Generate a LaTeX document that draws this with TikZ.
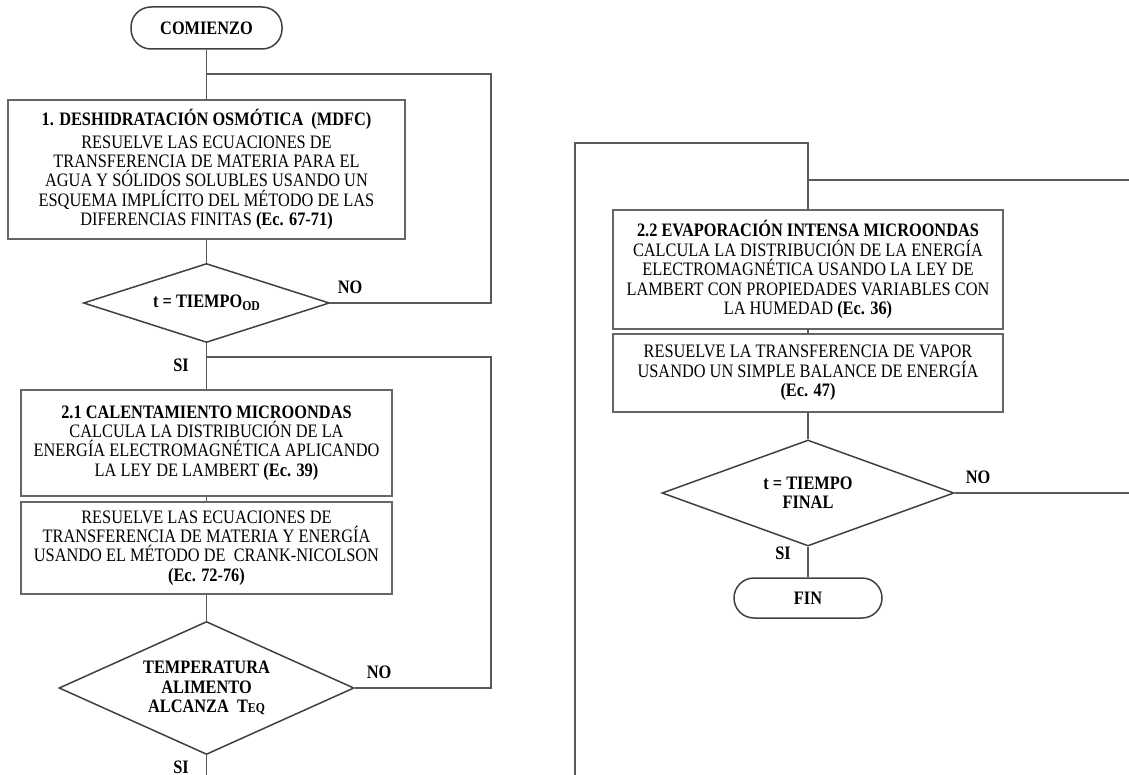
\documentclass[tikz,border=0pt]{standalone}
\usepackage{fontspec}
\setmainfont[FakeStretch=0.86]{Liberation Serif}
\usetikzlibrary{shapes.geometric,positioning,calc}

\tikzset{
  flow/.style={draw=black!65, line width=0.75pt},
  procbox/.style={draw=black!60, line width=0.75pt, rectangle, align=center, inner sep=1pt,
    font=\fontsize{9.5}{9.7}\selectfont},
  termbox/.style={draw=black!75, line width=0.75pt, rectangle, rounded corners=10pt,
    font=\bfseries\fontsize{9.5}{9.7}\selectfont},
  decbox/.style={draw=black!75, line width=0.75pt, diamond, inner sep=0pt, align=center,
    font=\bfseries\fontsize{9.5}{9.7}\selectfont},
  lbl/.style={font=\bfseries\fontsize{9.5}{9.7}\selectfont},
}
\newcommand{\smallsc}[1]{{\fontsize{6.8}{7}\selectfont #1}}

\begin{document}
\begin{tikzpicture}[x=0.5pt,y=-0.5pt]
    \useasboundingbox (0,0) rectangle (1129,775);

    % Left column
    \node[termbox, minimum width=75.5pt, minimum height=21pt] (start) at (206.5,28) {COMIENZO};
    \node[procbox, minimum width=198.5pt, minimum height=69.5pt] (osm) at (206.5,169.5)
        {\textbf{1. DESHIDRATACIÓN OSMÓTICA\ \ (MDFC)}\\[1.5pt]
         RESUELVE LAS ECUACIONES DE\\
         TRANSFERENCIA DE MATERIA PARA EL\\
         AGUA Y SÓLIDOS SOLUBLES USANDO UN\\
         ESQUEMA IMPLÍCITO DEL MÉTODO DE LAS\\
         DIFERENCIAS FINITAS \textbf{(Ec. 67-71)}};
    \node[decbox, aspect=3.1, minimum width=123pt, minimum height=39.5pt] (dec1) at (206.5,303)
        {t = TIEMPO\raisebox{-0.35ex}{\smallsc{OD}}};
    \node[procbox, minimum width=185.5pt, minimum height=53pt] (cal) at (206.5,443)
        {\textbf{2.1 CALENTAMIENTO MICROONDAS}\\
         CALCULA LA DISTRIBUCIÓN DE LA\\
         ENERGÍA ELECTROMAGNÉTICA APLICANDO\\
         LA LEY DE LAMBERT \textbf{(Ec. 39)}};
    \node[procbox, minimum width=185.5pt, minimum height=46pt] (cn) at (206.5,548)
        {RESUELVE LAS ECUACIONES DE\\
         TRANSFERENCIA DE MATERIA Y ENERGÍA\\
         USANDO EL MÉTODO DE\ \ CRANK-NICOLSON\\
         \textbf{(Ec. 72-76)}};
    \node[decbox, aspect=2.2, minimum width=147.5pt, minimum height=66.5pt] (dec2) at (206.5,688)
        {TEMPERATURA\\ALIMENTO\\ALCANZA\ \ T\smallsc{EQ}};

    % Right column
    \node[procbox, minimum width=195pt, minimum height=59.5pt] (evap) at (808,269.5)
        {\textbf{2.2 EVAPORACIÓN INTENSA MICROONDAS}\\
         CALCULA LA DISTRIBUCIÓN DE LA ENERGÍA\\
         ELECTROMAGNÉTICA USANDO LA LEY DE\\
         LAMBERT CON PROPIEDADES VARIABLES CON\\
         LA HUMEDAD \textbf{(Ec. 36)}};
    \node[procbox, minimum width=195pt, minimum height=39pt] (vap) at (808,373)
        {RESUELVE LA TRANSFERENCIA DE VAPOR\\
         USANDO UN SIMPLE BALANCE DE ENERGÍA\\
         \textbf{(Ec. 47)}};
    \node[decbox, aspect=2.75, minimum width=146pt, minimum height=53pt] (dec3) at (808,493)
        {t = TIEMPO\\FINAL};
    \node[termbox, minimum width=74pt, minimum height=20pt] (fin) at (808,598) {FIN};

    % Joints and free ends
    \coordinate (j1) at (206.5,74);
    \coordinate (r1) at (491,74);
    \coordinate (j2) at (206.5,357);
    \coordinate (r2) at (491,357);
    \coordinate (outL) at (206.5,775);
    \coordinate (inR) at (575,775);
    \coordinate (topR) at (808,143);
    \coordinate (j3) at (808,180);
    \coordinate (edge1) at (1129,180);
    \coordinate (edge2) at (1129,493);

    % Connectors
    \draw[flow] (start) -- (osm);
    \draw[flow] (osm) -- (dec1);
    \draw[flow] (dec1.east) -| (r1) -- (j1);
    \draw[flow] (dec1) -- (cal);
    \draw[flow] (cal) -- (cn);
    \draw[flow] (cn) -- (dec2);
    \draw[flow] (dec2.east) -| (r2) -- (j2);
    \draw[flow] (dec2.south) -- (outL);
    \draw[flow] (inR) |- (topR) -- (evap.north);
    \draw[flow] (j3) -- (edge1);
    \draw[flow] (evap) -- (vap);
    \draw[flow] (vap) -- (dec3);
    \draw[flow] (dec3.east) -- (edge2);
    \draw[flow] (dec3) -- (fin);

    % Branch labels
    \node[lbl] (no1) at (350,287) {NO};
    \node[lbl] (si1) at (181,365) {SI};
    \node[lbl] (no2) at (379,672) {NO};
    \node[lbl] (si2) at (181,767) {SI};
    \node[lbl] (no3) at (978,477) {NO};
    \node[lbl] (si3) at (783,553) {SI};
\end{tikzpicture}
\end{document}
